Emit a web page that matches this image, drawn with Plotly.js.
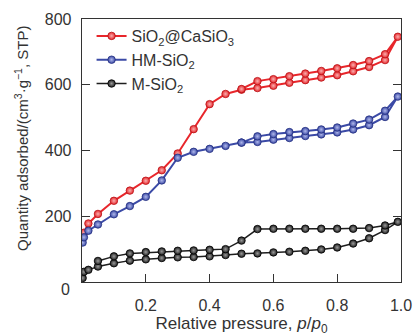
<!DOCTYPE html>
<html>
<head>
<meta charset="utf-8">
<script src="https://cdn.plot.ly/plotly-3.0.1.min.js"></script>
<style>html,body{margin:0;padding:0;background:#fff;}#chart{width:414px;height:336px;}</style>
</head>
<body>
<div id="chart"></div>
<script>
// Relative pressure p/p0 — adsorption branch and desorption branches
const adsP = [0.002, 0.006, 0.02, 0.05, 0.1, 0.15, 0.2, 0.25, 0.3, 0.35, 0.4, 0.45, 0.5, 0.55, 0.6, 0.65, 0.7, 0.75, 0.8, 0.85, 0.9, 0.95, 0.99];
const desP = [0.95, 0.9, 0.85, 0.8, 0.75, 0.7, 0.65, 0.6, 0.55, 0.5];
const desPBlack = [0.95, 0.9, 0.85, 0.8, 0.75, 0.7, 0.65, 0.6, 0.55, 0.5, 0.45, 0.4, 0.35, 0.3, 0.25, 0.2, 0.15, 0.1, 0.05];

// SiO2@CaSiO3
const redAds = [135, 150, 178, 207, 247, 278, 308, 340, 391, 465, 541, 572, 585, 590, 597, 606, 614, 622, 629, 641, 654, 675, 746];
const redDes = [693, 672, 660, 650, 642, 634, 626, 617, 611, 587];
// HM-SiO2
const blueAds = [120, 136, 156, 175, 206, 231, 259, 309, 378, 396, 405, 414, 424, 426, 433, 438, 444, 449, 455, 464, 477, 502, 564];
const blueDes = [521, 494, 482, 470, 464, 459, 456, 450, 443, 424];
// M-SiO2
const blackAds = [12, 31, 37, 47, 57, 65, 69, 73, 75, 76, 78, 82, 86, 87, 90, 92, 95, 99, 105, 117, 133, 158, 183];
const blackDes = [172, 164, 162, 162, 162, 162, 162, 162, 161, 126, 100, 98, 96, 95, 93, 91, 87, 78, 64];

const names = ['SiO<sub>2</sub>@CaSiO<sub>3</sub>', 'HM-SiO<sub>2</sub>', 'M-SiO<sub>2</sub>'];
const xTicks = [0.2, 0.4, 0.6, 0.8, 1.0];
const yTicks = [200, 400, 600, 800];
const xTitle = 'Relative pressure, <i>p</i>/<i>p</i><sub>0</sub>';
const yTitle = 'Quantity adsorbed/(cm<sup>3</sup>·g<sup>−1</sup>, STP)';

function series(name, xs, ys, color, dark, light, lw) {
  return {
    type: 'scatter', mode: 'lines+markers', name: name,
    x: xs, y: ys,
    line: {color: color, width: lw},
    marker: {symbol: 'circle', size: 7.5, color: color,
      line: {color: dark, width: 0.8},
      gradient: {type: 'radial', color: light}}
  };
}

const data = [
  series(names[0], adsP.concat(desP), redAds.concat(redDes), '#e8262b', '#b81418', '#f8b0b0', 2),
  series(names[1], adsP.concat(desP), blueAds.concat(blueDes), '#3b4aa6', '#253080', '#b0b8ea', 2),
  series(names[2], adsP.concat(desPBlack), blackAds.concat(blackDes), '#1e1e1e', '#000000', '#9a9a9a', 1.5)
];

const font = 'Liberation Sans, Arial, sans-serif';
const layout = {
  width: 414, height: 336,
  margin: {l: 82, r: 13, t: 19, b: 54},
  paper_bgcolor: '#fff', plot_bgcolor: '#fff',
  font: {family: font, color: '#333', size: 16},
  showlegend: true,
  legend: {x: 0.03, y: 1.0, xanchor: 'left', yanchor: 'top', bgcolor: 'rgba(0,0,0,0)',
    font: {family: font, size: 16, color: '#333'}, tracegroupgap: 0, itemwidth: 30},
  xaxis: {
    range: [0, 1], tickvals: xTicks, tickformat: '.1f',
    ticks: 'inside', ticklen: 8, tickwidth: 1.2, tickcolor: '#333',
    showline: true, linecolor: '#333', linewidth: 1.3, mirror: true,
    showgrid: false, zeroline: false, ticklabelstandoff: 8,
    tickfont: {size: 16, color: '#333'},
    title: {text: xTitle, font: {size: 17, color: '#333'}, standoff: 6}
  },
  yaxis: {
    range: [0, 800], tickvals: yTicks,
    ticks: 'inside', ticklen: 8, tickwidth: 1.2, tickcolor: '#333',
    showline: true, linecolor: '#333', linewidth: 1.3, mirror: 'ticks',
    showgrid: false, zeroline: false, ticklabelstandoff: 6,
    tickfont: {size: 16, color: '#333'}
  },
  annotations: [
    {xref: 'paper', yref: 'paper', x: -0.053, y: -0.03, xanchor: 'center', yanchor: 'middle',
     text: '0', showarrow: false, font: {size: 16, color: '#333'}},
    {xref: 'paper', yref: 'paper', x: -0.188, y: 0.544, xanchor: 'center', yanchor: 'middle',
     textangle: -90, text: yTitle, showarrow: false, font: {size: 15, color: '#333'}}
  ]
};

Plotly.newPlot('chart', data, layout, {displayModeBar: false, staticPlot: true});
</script>
</body>
</html>
